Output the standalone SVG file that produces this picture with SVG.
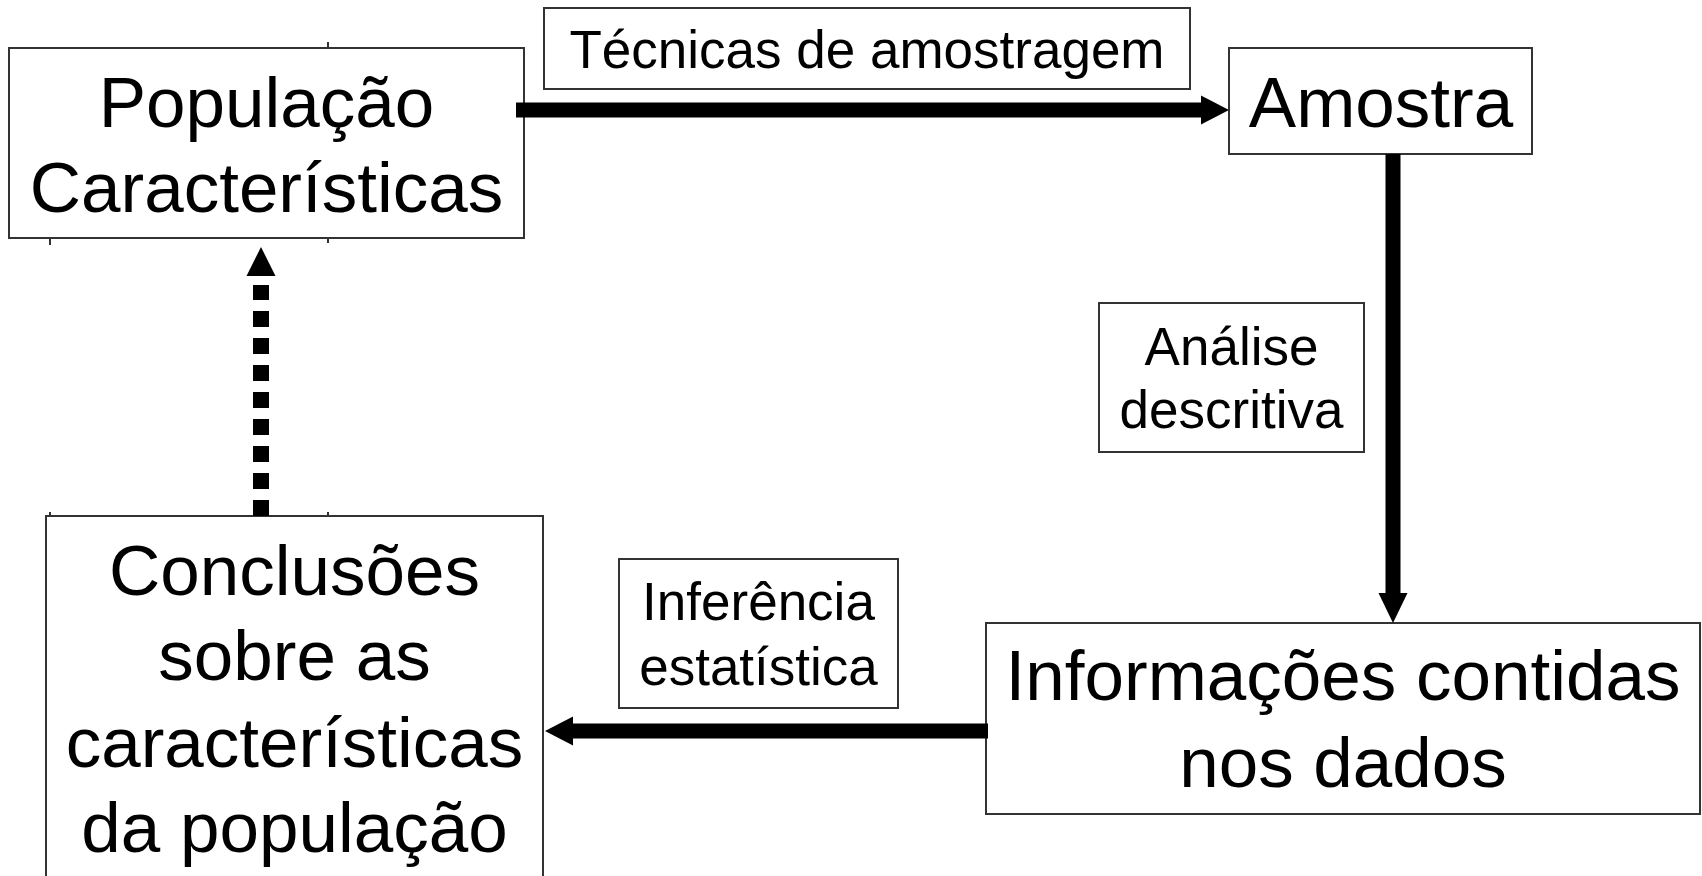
<svg xmlns="http://www.w3.org/2000/svg" width="1702" height="876" viewBox="0 0 1702 876">
<style>
.box{fill:#fff;stroke:#333;stroke-width:2}
.big{font-family:"Liberation Sans",Arial,sans-serif;font-size:71px;fill:#000;text-anchor:middle}
.lbl{font-family:"Liberation Sans",Arial,sans-serif;font-size:53px;fill:#000;text-anchor:middle}
.bar{stroke:#000;stroke-width:15;fill:none}
.head{fill:#000}
.tick{stroke:#333;stroke-width:2}
</style>
<rect width="1702" height="876" fill="#fff"/>
<g id="ticks">
<line class="tick" x1="328" y1="42" x2="328" y2="48"/>
<line class="tick" x1="50" y1="238" x2="50" y2="245"/>
<line class="tick" x1="328" y1="238" x2="328" y2="243"/>
<line class="tick" x1="50" y1="512" x2="50" y2="516"/>
<line class="tick" x1="328" y1="512" x2="328" y2="516"/>
</g>
<g id="n-populacao">
<rect class="box" x="9" y="48" width="515" height="190"/>
<text class="big" x="266.5" y="127">População</text>
<text class="big" x="266.5" y="212">Características</text>
</g>
<g id="n-tecnicas">
<rect class="box" x="544" y="8" width="646" height="81"/>
<text class="lbl" x="867" y="68">Técnicas de amostragem</text>
</g>
<g id="n-amostra">
<rect class="box" x="1229" y="48" width="303" height="106"/>
<text class="big" x="1381" y="127">Amostra</text>
</g>
<g id="n-analise">
<rect class="box" x="1099" y="303" width="265" height="149"/>
<text class="lbl" x="1231.5" y="365">Análise</text>
<text class="lbl" x="1231.5" y="428">descritiva</text>
</g>
<g id="n-informacoes">
<rect class="box" x="986" y="623" width="714" height="191"/>
<text class="big" x="1343" y="700">Informações contidas</text>
<text class="big" x="1343" y="787">nos dados</text>
</g>
<g id="n-inferencia">
<rect class="box" x="619" y="559" width="279" height="149"/>
<text class="lbl" x="758.5" y="620">Inferência</text>
<text class="lbl" x="758.5" y="685">estatística</text>
</g>
<g id="n-conclusoes">
<rect class="box" x="46" y="516" width="497" height="370"/>
<text class="big" x="294.5" y="595">Conclusões</text>
<text class="big" x="294.5" y="680">sobre as</text>
<text class="big" x="294.5" y="767">características</text>
<text class="big" x="294.5" y="852">da população</text>
</g>
<g id="connectors">
<line class="bar" x1="516" y1="110" x2="1203" y2="110"/>
<path class="head" d="M1229,110 L1201,95.5 L1201,124.5 Z"/>
<line class="bar" x1="1393" y1="154" x2="1393" y2="596"/>
<path class="head" d="M1393,623 L1378.5,593 L1407.5,593 Z"/>
<line class="bar" x1="988" y1="731" x2="571" y2="731"/>
<path class="head" d="M545,731 L573,716.5 L573,745.5 Z"/>
<line x1="261" y1="516" x2="261" y2="285" stroke="#000" stroke-width="16" stroke-dasharray="16 11"/>
<path class="head" d="M261,247 L275.5,276 L246.5,276 Z"/>
</g>
</svg>
